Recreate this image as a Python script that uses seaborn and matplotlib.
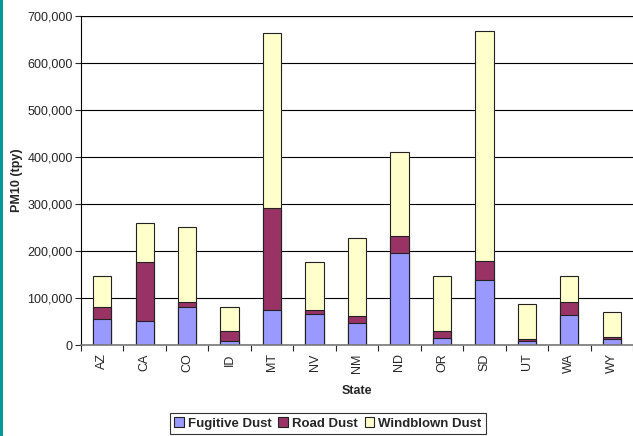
"""Stacked PM10 dust emissions by state."""

import pandas as pd
import matplotlib
matplotlib.use("Agg")
import matplotlib.pyplot as plt
from matplotlib.patches import Patch, Rectangle
import seaborn as sns

states = ["AZ", "CA", "CO", "ID", "MT", "NV", "NM", "ND", "OR", "SD", "UT", "WA", "WY"]
fugitive = [55000, 52000, 81000, 9000, 74000, 65000, 46000, 196000, 14000, 138000, 8500, 64000, 12000]
road = [25000, 125000, 11000, 21000, 217000, 9000, 16000, 36000, 16000, 41000, 3500, 28000, 4000]
windblown = [66000, 83000, 160000, 50000, 372000, 103000, 165000, 179000, 117000, 489000, 75000, 55000, 54000]

df = pd.DataFrame({"State": states, "Fugitive": fugitive, "Road": road, "Windblown": windblown})
# cumulative heights, drawn back to front
df["lvl1"] = df["Fugitive"]
df["lvl2"] = df["Fugitive"] + df["Road"]
df["lvl3"] = df["lvl2"] + df["Windblown"]

sns.set_style("white")
plt.rcParams["font.family"] = ["Liberation Sans", "DejaVu Sans"]

colors = {"Fugitive Dust": "#9999FF", "Road Dust": "#993366", "Windblown Dust": "#FFFFCC"}

fig = plt.figure(figsize=(6.33, 4.36), dpi=100)
ax = fig.add_axes([81 / 633, 1 - 345 / 436, 1 - 81 / 633, (345 - 16) / 436])

for col, name in [("lvl3", "Windblown Dust"), ("lvl2", "Road Dust"), ("lvl1", "Fugitive Dust")]:
    sns.barplot(data=df, x="State", y=col, color=colors[name], saturation=1,
                width=0.43, edgecolor="#222222", linewidth=0.8, ax=ax)

ax.set_ylim(0, 700000)
ax.set_xlim(-0.5, 12.5)
ax.set_yticks(range(0, 700001, 100000))
ax.set_yticklabels([f"{v:,}" for v in range(0, 700001, 100000)], fontsize=9)
ax.yaxis.grid(True, color="black", linewidth=0.8)
ax.set_axisbelow(True)
ax.tick_params(axis="y", direction="out", length=4, width=0.8, left=True, pad=2)

ax.set_xticks(range(len(states)))
ax.set_xticklabels(states, rotation=90, fontsize=9)
ax.set_xticks([i - 0.5 for i in range(len(states) + 1)], minor=True)
ax.tick_params(axis="x", which="major", length=0, pad=6)
ax.tick_params(axis="x", which="minor", direction="out", length=4, width=0.8, bottom=True)

for side in ["top", "right"]:
    ax.spines[side].set_visible(False)
ax.spines["left"].set_color("black")
ax.spines["left"].set_linewidth(0.8)
ax.spines["bottom"].set_color("#777777")
ax.spines["bottom"].set_linewidth(1.2)
ax.axhline(700000, color="#444444", linewidth=1.6, zorder=0.5)

ax.set_xlabel("State", fontsize=9, fontweight="bold", labelpad=8)
ax.set_ylabel("PM10 (tpy)", fontsize=9, fontweight="bold", labelpad=3)

handles = [Patch(facecolor=c, edgecolor="#222222", linewidth=0.8, label=n)
           for n, c in colors.items()]
leg = fig.legend(handles=handles, loc="upper center", bbox_to_anchor=(0.518, 0.052),
                 ncol=3, frameon=True, fancybox=False, handlelength=0.75, handleheight=0.75,
                 handletextpad=0.3, columnspacing=0.5, borderpad=0.3, borderaxespad=0,
                 prop={"size": 9.5, "weight": "bold"})
leg.get_frame().set_edgecolor("black")
leg.get_frame().set_linewidth(0.8)

# teal strip along the left edge
fig.patches.append(Rectangle((0, 0), 3 / 633, 1, transform=fig.transFigure,
                             facecolor="#009999", edgecolor="none"))

fig.savefig("out.png", dpi=100)
